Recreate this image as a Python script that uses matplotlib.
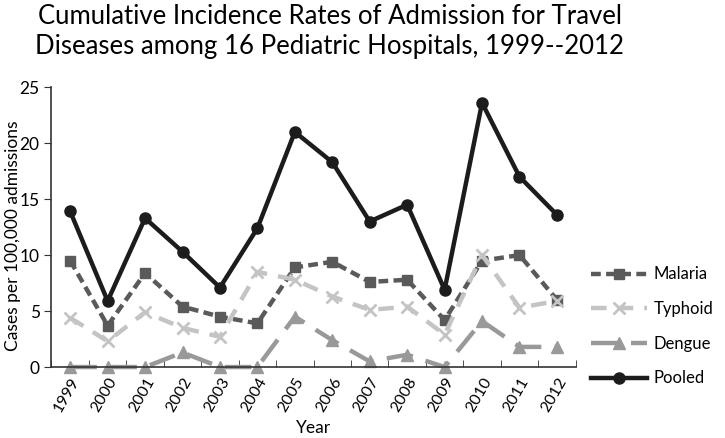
import matplotlib
matplotlib.use("Agg")
import matplotlib.pyplot as plt
import numpy as np

plt.rcParams['font.family'] = ['Lato', 'DejaVu Sans']

# data
years = ['1999', '2000', '2001', '2002', '2003', '2004', '2005',
         '2006', '2007', '2008', '2009', '2010', '2011', '2012']
malaria = [9.5, 3.7, 8.4, 5.4, 4.5, 3.9, 8.9, 9.4, 7.6, 7.8, 4.2, 9.5, 10.0, 6.0]
typhoid = [4.4, 2.3, 4.9, 3.5, 2.7, 8.5, 7.8, 6.3, 5.1, 5.4, 2.9, 10.0, 5.3, 5.9]
dengue = [0, 0, 0, 1.3, 0, 0, 4.5, 2.4, 0.5, 1.1, 0, 4.1, 1.8, 1.8]
pooled = [13.9, 5.9, 13.3, 10.3, 7.1, 12.4, 21.0, 18.3, 13.0, 14.5, 6.9, 23.6, 17.0, 13.6]

fig = plt.figure(figsize=(7.25, 4.38), dpi=100)
ax = fig.add_axes([0.071, 0.162, 0.723, 0.639])

x = np.arange(len(years))
ax.plot(x, malaria, color='#5a5a5a', lw=3.2, ls=(0, (2.2, 1.2)), marker='s',
        ms=7, label='Malaria', clip_on=False)
ax.plot(x, typhoid, color='#c4c4c4', lw=3.2, ls=(0, (3.5, 2.5)), marker='x',
        ms=8, mew=2, label='Typhoid', clip_on=False)
ax.plot(x, dengue, color='#999999', lw=3.2, ls=(0, (6, 3)), marker='^',
        ms=8, label='Dengue', clip_on=False)
ax.plot(x, pooled, color='#1c1c1c', lw=3.2, marker='o', ms=8,
        label='Pooled', clip_on=False)

ax.set_xlim(-0.5, len(years) - 0.5)
ax.set_ylim(0, 25)
ax.set_yticks([0, 5, 10, 15, 20, 25])
ax.set_xticks(x)
ax.set_xticklabels(years, rotation=60, ha='right', rotation_mode='anchor', fontsize=11.5)
ax.tick_params(axis='x', length=0, pad=6)
ax.set_xticks(np.arange(len(years) + 1) - 0.5, minor=True)
ax.tick_params(axis='x', which='minor', direction='in', length=5, color='#333333')
ax.tick_params(axis='y', labelsize=12.5, length=5, color='#333333')
for s in ['top', 'right']:
    ax.spines[s].set_visible(False)
for s in ['left', 'bottom']:
    ax.spines[s].set_color('#333333')
    ax.spines[s].set_linewidth(1.2)

ax.set_xlabel('Year', fontsize=12.5)
ax.set_ylabel('Cases per 100,000 admissions', fontsize=12.5)
ax.yaxis.set_label_coords(-0.058, 0.47)
fig.text(0.455, 0.99, 'Cumulative Incidence Rates of Admission for Travel\n'
         'Diseases among 16 Pediatric Hospitals, 1999--2012',
         fontsize=18.5, ha='center', va='top', linespacing=1.25)

ax.legend(loc='center left', bbox_to_anchor=(1.0, 0.145), frameon=False,
          fontsize=12, handlelength=3.4, labelspacing=1.12, handletextpad=0.4)

fig.savefig('out.png', dpi=100)
